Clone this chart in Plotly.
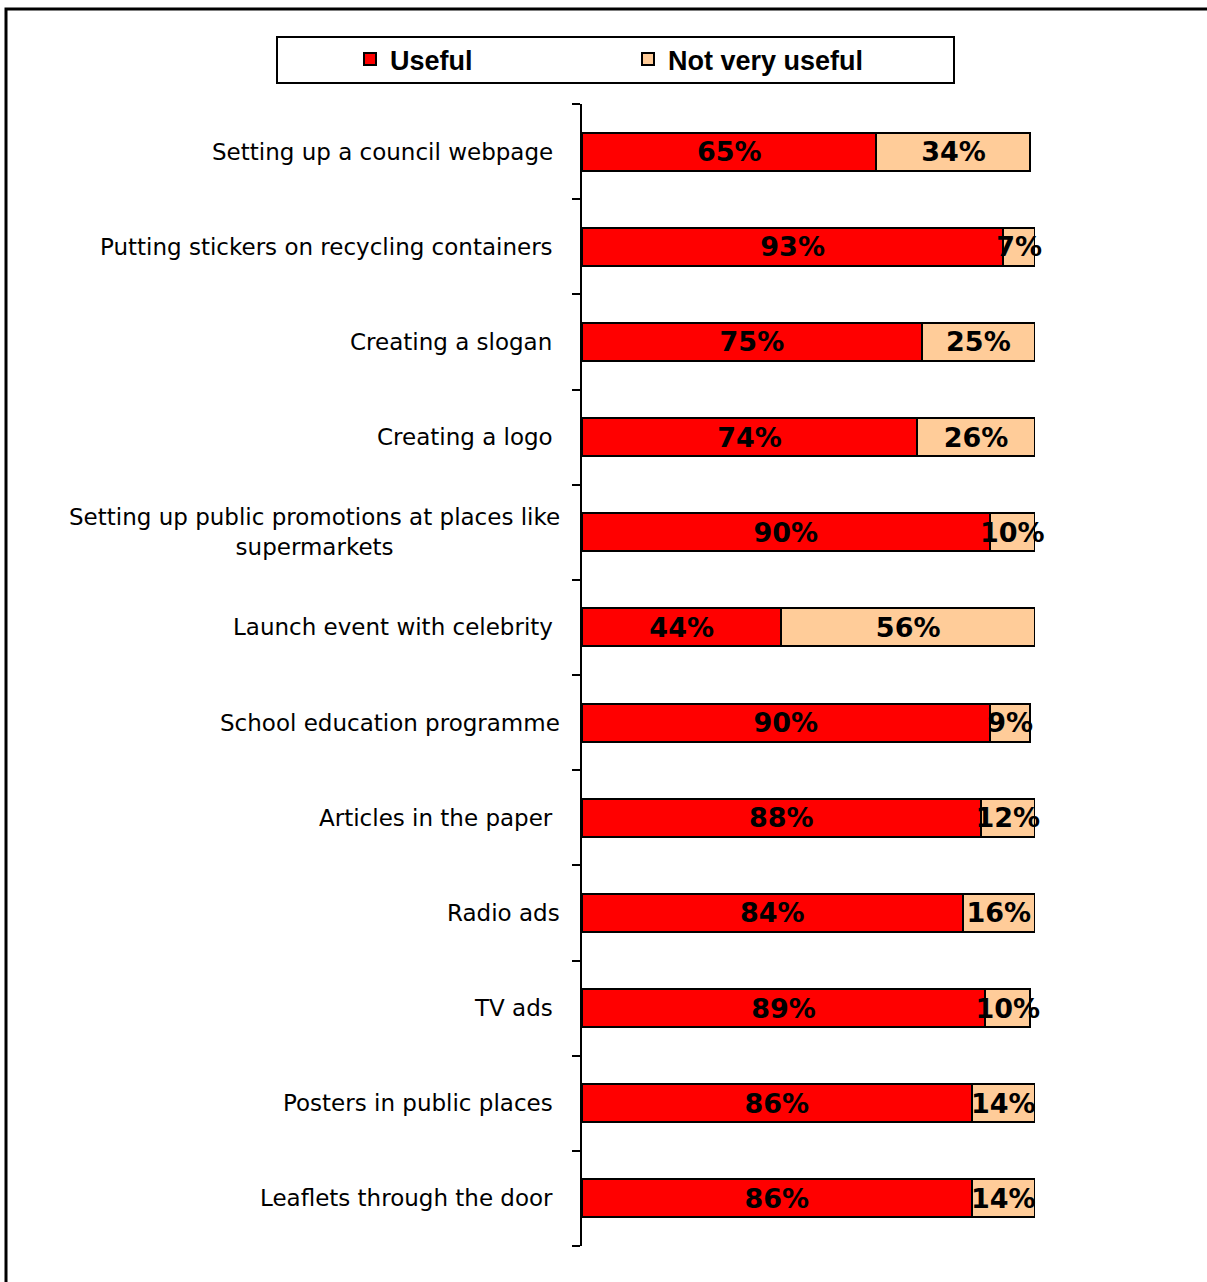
import plotly.graph_objects as go

# Survey: how useful each promotional activity would be
categories = [
    "Setting up a council webpage\u00a0",
    "Putting stickers on recycling containers\u00a0",
    "Creating a slogan\u00a0",
    "Creating a logo\u00a0",
    "Setting up public promotions at places like<br>supermarkets",
    "Launch event with celebrity\u00a0",
    "School education programme",
    "Articles in the paper\u00a0",
    "Radio ads",
    "TV ads\u00a0",
    "Posters in public places\u00a0",
    "Leaflets through the door\u00a0",
]
useful = [65, 93, 75, 74, 90, 44, 90, 88, 84, 89, 86, 86]
not_very_useful = [34, 7, 25, 26, 10, 56, 9, 12, 16, 10, 14, 14]

W, H = 1207, 1282
ML, MR, MT, MB = 582, 172, 104, 36
PW, PH = W - ML - MR, H - MT - MB

def px_x(px):
    return (px - ML) / PW

def px_y(py):
    return (H - MB - py) / PH

label_font = dict(family="DejaVu Sans", size=27, color="black", weight="bold")

fig = go.Figure()
fig.add_trace(go.Bar(
    y=categories, x=useful, orientation="h", name="Useful",
    marker=dict(color="#FF0000", line=dict(color="black", width=2)),
    text=[f"{v}%" for v in useful], textposition="inside",
    insidetextanchor="middle", constraintext="none", textangle=0,
    insidetextfont=label_font, width=0.4, hoverinfo="skip", cliponaxis=False,
))
fig.add_trace(go.Bar(
    y=categories, x=not_very_useful, orientation="h", name="Not very useful",
    marker=dict(color="#FFCC99", line=dict(color="black", width=2)),
    text=[f"{v}%" for v in not_very_useful], textposition="inside",
    insidetextanchor="middle", constraintext="none", textangle=0,
    insidetextfont=label_font, width=0.4, hoverinfo="skip", cliponaxis=False,
))

# category labels, centred line-by-line and right-aligned to the axis
for c in categories:
    fig.add_annotation(
        x=px_x(562), xref="paper", y=c, yref="y", text=c,
        showarrow=False, xanchor="right", yanchor="middle", align="center",
        font=dict(family="DejaVu Sans", size=23, color="black"),
    )

shapes = [
    # outer chart frame
    dict(type="rect", xref="paper", yref="paper",
         x0=px_x(6), x1=px_x(1225), y0=px_y(1300), y1=px_y(9),
         line=dict(color="black", width=3), fillcolor="rgba(0,0,0,0)"),
    # legend frame
    dict(type="rect", xref="paper", yref="paper",
         x0=px_x(277), x1=px_x(954), y0=px_y(83), y1=px_y(37),
         line=dict(color="black", width=2), fillcolor="rgba(0,0,0,0)"),
]

fig.update_layout(
    width=W, height=H, barmode="stack",
    margin=dict(l=ML, r=MR, t=MT, b=MB, autoexpand=False),
    paper_bgcolor="white", plot_bgcolor="white",
    shapes=shapes,
    xaxis=dict(range=[0, 100], visible=False, fixedrange=True),
    yaxis=dict(
        autorange=False, range=[len(categories) - 0.5, -0.5],
        showticklabels=False, showline=True, linecolor="black", linewidth=2,
        ticks="outside", ticklen=8, tickwidth=2, tickcolor="black",
        tickmode="array", tickvals=[i - 0.5 for i in range(len(categories) + 1)],
        showgrid=False, zeroline=False, fixedrange=True,
    ),
    showlegend=True,
    legend=dict(
        orientation="h", xref="paper", yref="paper",
        x=px_x(350), y=px_y(35), xanchor="left", yanchor="top",
        font=dict(family="Liberation Sans", size=27, color="black", weight="bold"),
        entrywidth=233, entrywidthmode="pixels", traceorder="normal",
        bgcolor="rgba(0,0,0,0)", borderwidth=0,
    ),
)

fig.write_html("out.html")
